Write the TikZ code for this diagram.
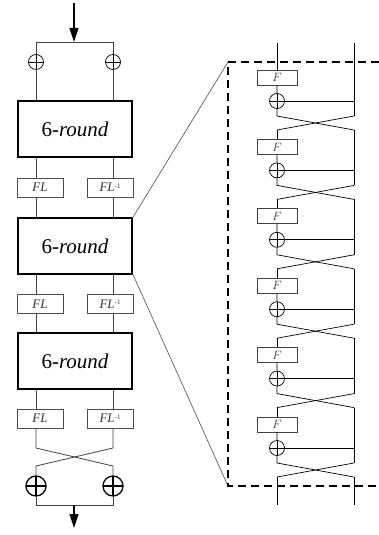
\documentclass[tikz,border=0pt]{standalone}
\usepackage{fontspec}
\newfontfamily\tms{Liberation Serif}
\usetikzlibrary{arrows.meta}
\begin{document}
\begin{tikzpicture}[x=1pt,y=-1pt,
  thin line/.style={draw=black!75,line width=0.8pt},
  feistel line/.style={draw=black,line width=0.7pt},
  roundbox/.style={draw=black,line width=2.6pt,minimum width=114pt,minimum height=56pt,inner sep=0pt,font=\tms\fontsize{21}{24}\selectfont},
  flbox/.style={draw=black!70,line width=0.7pt,fill=white,minimum width=46pt,minimum height=19pt,inner sep=0pt,text=black!80,font=\tms\fontsize{13}{14}\selectfont\itshape},
  fbox/.style={draw=black!75,line width=0.7pt,fill=white,minimum width=40pt,minimum height=15pt,inner sep=0pt,text=black!80,font=\fontsize{12.5}{13}\selectfont},
  xorsym/.style={circle,draw=black,line width=#1,inner sep=0pt,path picture={
      \draw[line width=#1] (path picture bounding box.north) -- (path picture bounding box.south)
            (path picture bounding box.west) -- (path picture bounding box.east);}},
  xorsmall/.style={xorsym=0.7pt,minimum size=15pt},
  xorbig/.style={xorsym=1.3pt,minimum size=20pt},
  flow/.style={line width=1.2pt,-{Triangle[length=14pt,width=9pt]}},
  zoomline/.style={draw=black!70,line width=0.6pt},
  frame/.style={line width=1.5pt,dash pattern=on 8pt off 5pt}
]
\useasboundingbox (0,0) rectangle (379,535);

% ---------- overall structure ----------
\coordinate (in) at (74,3);
\coordinate (split) at (74,42);
\coordinate (tl) at (36,42);
\coordinate (tr) at (113,42);
\draw[flow] (in) -- (split);
\draw[thin line] (tl) -- (tr);

\node[xorsmall] (xa) at (36,62) {};
\node[xorsmall] (xb) at (113,62) {};

\node[roundbox] (r1) at (75,129) {6-\textit{round}};
\node[roundbox] (r2) at (75,246) {6-\textit{round}};
\node[roundbox] (r3) at (75,361) {6-\textit{round}};

\foreach \i/\y in {1/187.5,2/304,3/418.5}{
  \node[flbox] (fl\i) at (40,\y) {FL};
  \node[flbox] (fli\i) at (110,\y) {FL\raisebox{0.55ex}{\fontsize{7}{8}\selectfont\upshape -1}};
}

\draw[thin line] (tl) -- (xa) (xa) -- (xa |- r1.north);
\draw[thin line] (tr) -- (xb) (xb) -- (xb |- r1.north);
\draw[thin line] (xa |- r1.south) -- (xa |- fl1.north);
\draw[thin line] (xb |- r1.south) -- (xb |- fli1.north);
\draw[thin line] (xa |- fl1.south) -- (xa |- r2.north);
\draw[thin line] (xb |- fli1.south) -- (xb |- r2.north);
\draw[thin line] (xa |- r2.south) -- (xa |- fl2.north);
\draw[thin line] (xb |- r2.south) -- (xb |- fli2.north);
\draw[thin line] (xa |- fl2.south) -- (xa |- r3.north);
\draw[thin line] (xb |- fli2.south) -- (xb |- r3.north);
\draw[thin line] (xa |- r3.south) -- (xa |- fl3.north);
\draw[thin line] (xb |- r3.south) -- (xb |- fli3.north);

% final swap and whitening
\node[xorbig] (xc) at (36,486) {};
\node[xorbig] (xd) at (113,486) {};
\coordinate (ca) at (36,448);
\coordinate (cb) at (113,448);
\coordinate (cc) at (36,466);
\coordinate (cd) at (113,466);
\draw[thin line] (xa |- fl3.south) -- (ca) -- (cd) -- (xd);
\draw[thin line] (xb |- fli3.south) -- (cb) -- (cc) -- (xc);
\coordinate (bl) at (36,505);
\coordinate (br) at (113,505);
\coordinate (join) at (74,505);
\coordinate (out) at (74,528);
\draw[thin line] (xc) -- (bl) -- (br) -- (xd);
\draw[flow] (join) -- (out);

% ---------- detail of one 6-round block ----------
\coordinate (ftl) at (228,62);
\coordinate (fbl) at (228,486);
\draw[zoomline] (r2.north east) -- (ftl);
\draw[zoomline] (r2.south east) -- (fbl);

\coordinate (Ltop) at (277,43);
\coordinate (Rtop) at (354,43);
\foreach \k in {0,...,5}{
  \pgfmathsetmacro{\yf}{77.5+69.4*\k}
  \pgfmathsetmacro{\yx}{101+69.4*\k}
  \pgfmathsetmacro{\ya}{116+69.4*\k}
  \pgfmathsetmacro{\yb}{130+69.4*\k}
  \node[fbox] (F\k) at (277,\yf) {$F$};
  \node[xorsmall] (X\k) at (277,\yx) {};
  \coordinate (H\k) at (354,\yx);
  \coordinate (A\k) at (277,\ya);
  \coordinate (B\k) at (354,\ya);
  \coordinate (C\k) at (277,\yb);
  \coordinate (D\k) at (354,\yb);
  \draw[feistel line] (F\k) -- (X\k) (X\k) -- (A\k) -- (D\k);
  \draw[feistel line] (X\k) -- (H\k);
  \draw[feistel line] (B\k) -- (C\k);
}
\draw[feistel line] (Ltop) -- (F0);
\draw[feistel line] (Rtop) -- (B0);
\foreach \k [evaluate=\k as \n using int(\k+1)] in {0,...,4}{
  \draw[feistel line] (C\k) -- (F\n);
  \draw[feistel line] (D\k) -- (B\n);
}
\coordinate (Lend) at (277,505);
\coordinate (Rend) at (354,505);
\draw[feistel line] (C5) -- (Lend);
\draw[feistel line] (D5) -- (Rend);

\draw[frame] (379,62) -- (ftl) -- (fbl) -- (379,486);
\end{tikzpicture}
\end{document}
